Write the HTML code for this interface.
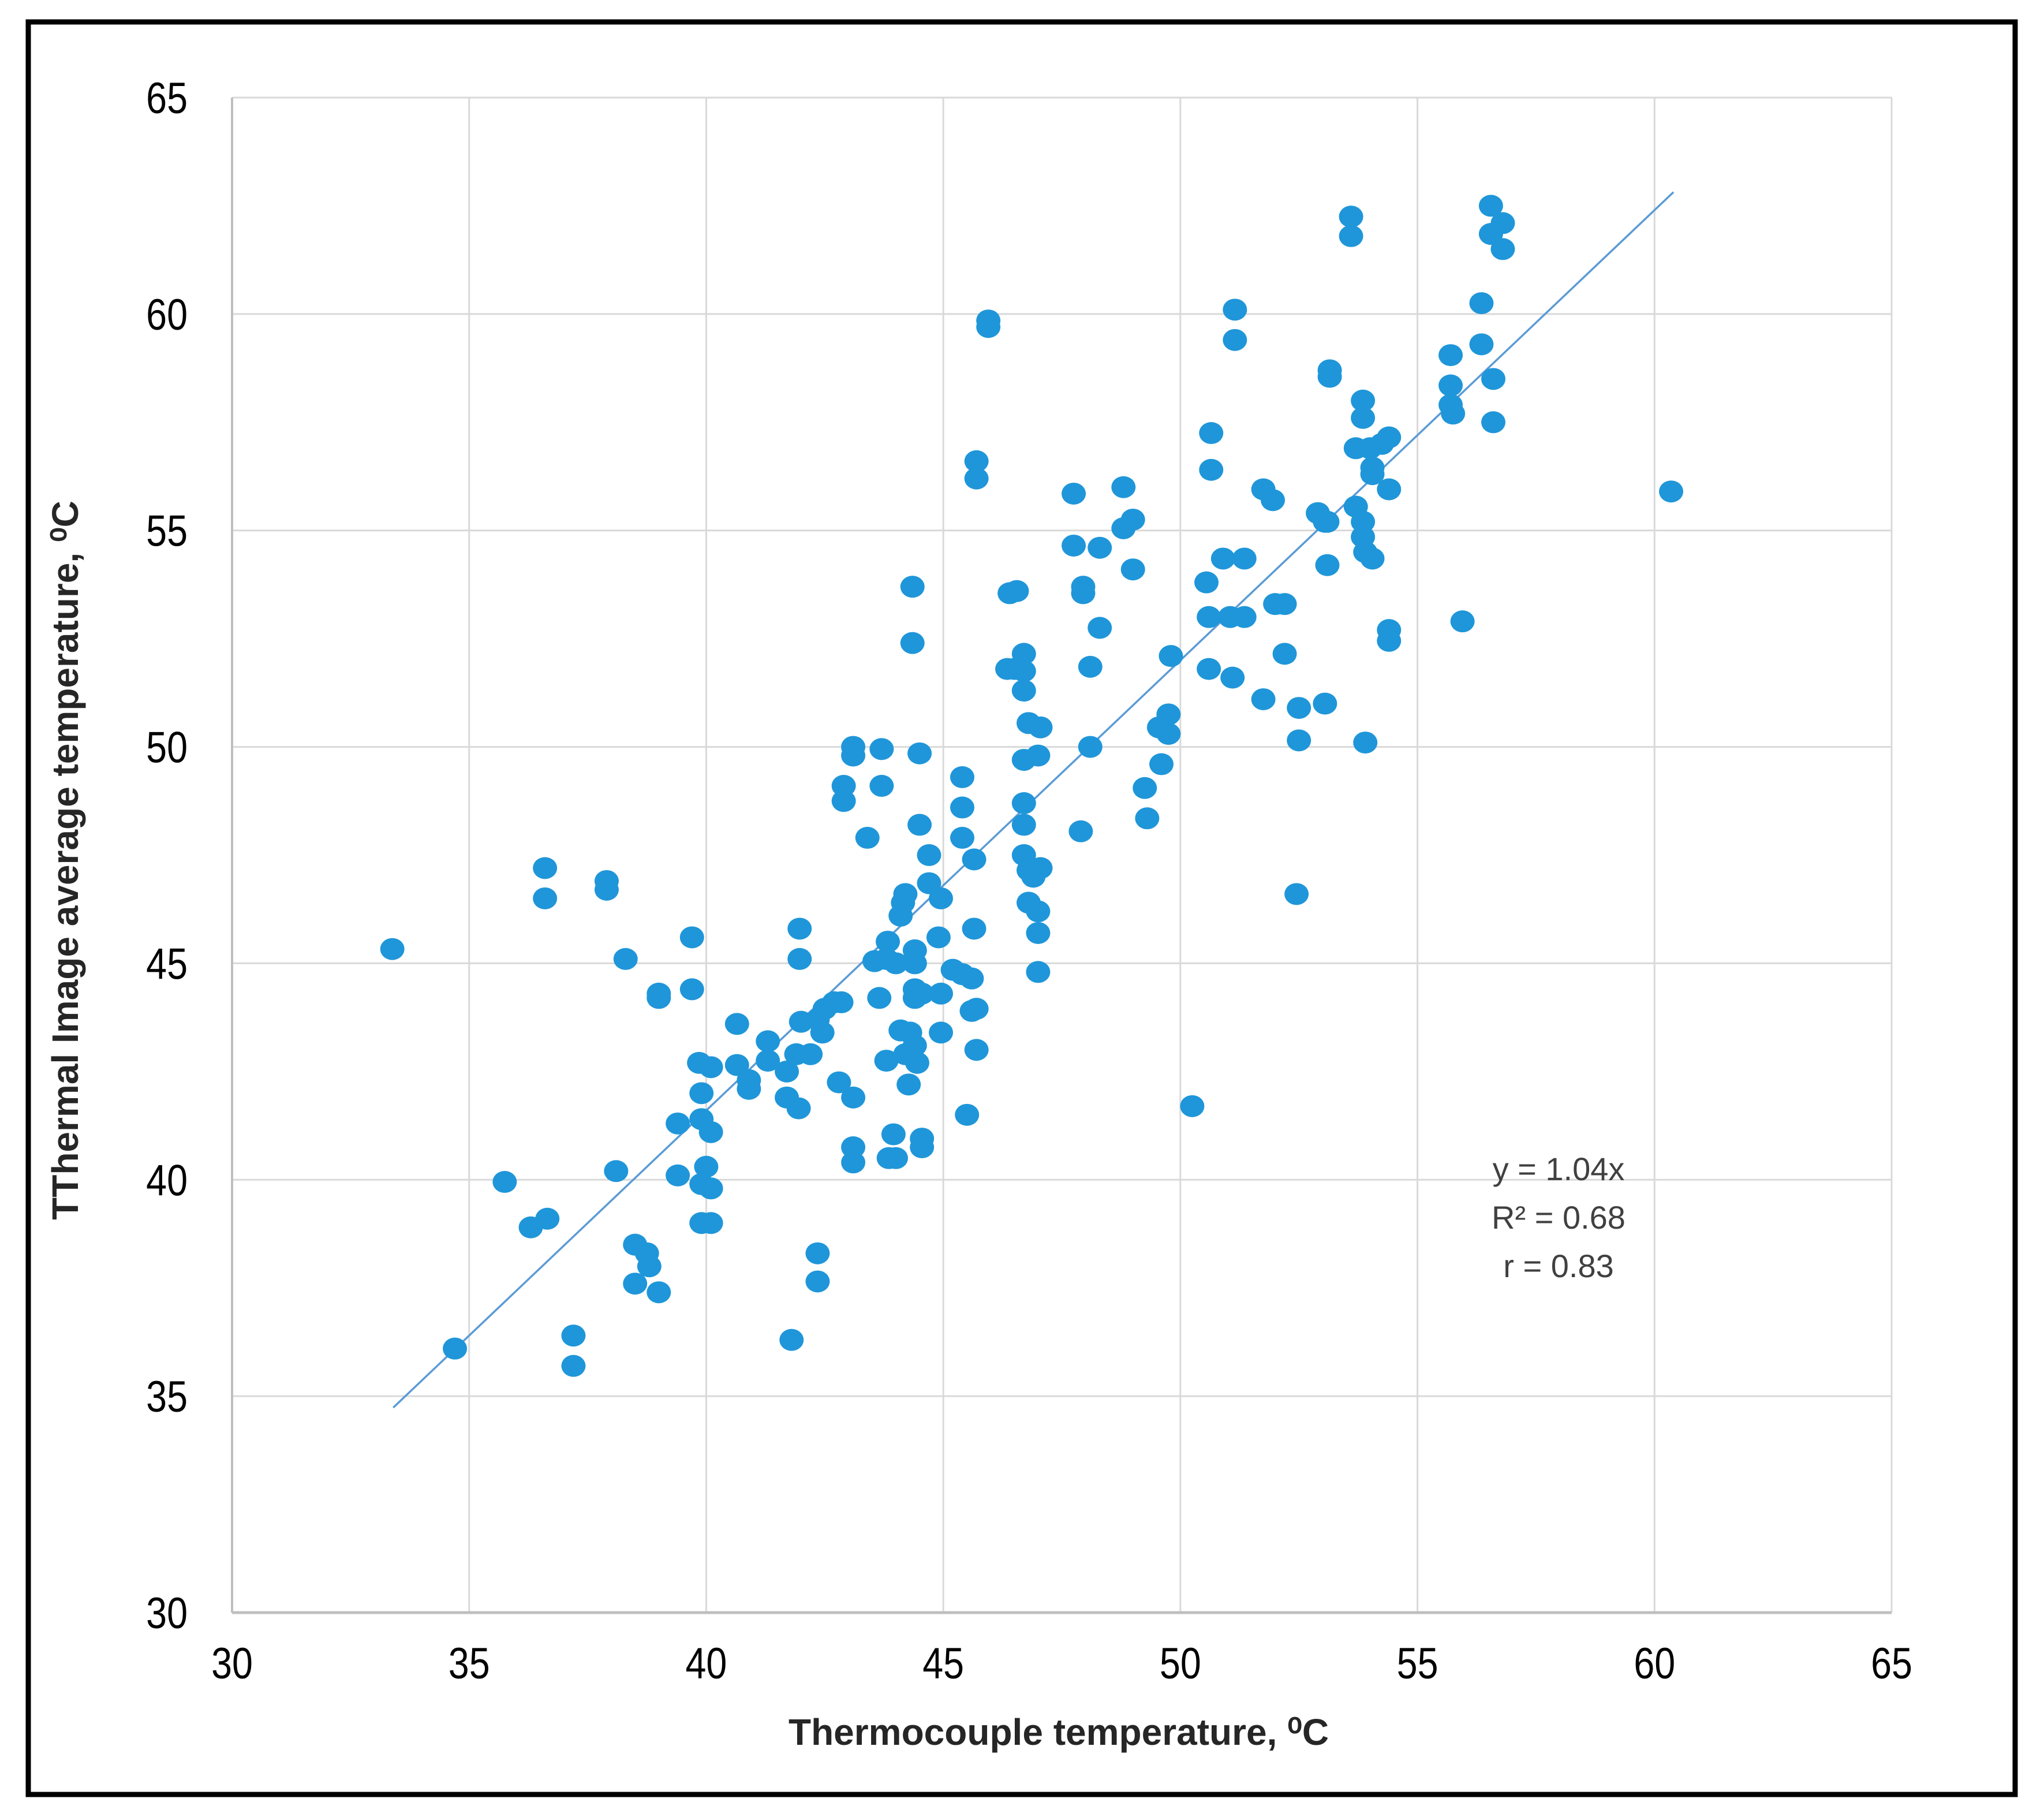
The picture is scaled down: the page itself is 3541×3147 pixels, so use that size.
<!DOCTYPE html>
<html><head><meta charset="utf-8"><style>
html,body{margin:0;padding:0;background:#fff;}
svg{display:block;}
text{font-family:"Liberation Sans",sans-serif;}
</style></head><body>
<svg id="chart" width="3541" height="3147" viewBox="0 0 3541 3147" xmlns="http://www.w3.org/2000/svg">
<rect x="49" y="38" width="3442" height="3070" fill="#fff" stroke="#000" stroke-width="9"/>
<g id="grid"></g>
<g id="axes"></g>
<g id="ticks"></g>
<line id="trend" stroke="#5b9bd5" stroke-width="3.5"/>
<g id="points"></g>
<text x="1834" y="3022" text-anchor="middle" font-size="64" font-weight="bold" fill="#262626">Thermocouple temperature, ⁰C</text>
<text transform="translate(135,1490) rotate(-90)" text-anchor="middle" font-size="64" font-weight="bold" fill="#262626">TThermal Image  average temperature, ⁰C</text>
<g font-size="56" fill="#404040" text-anchor="middle">
<text x="2700" y="2044">y = 1.04x</text>
<text x="2700" y="2128">R² = 0.68</text>
<text x="2700" y="2212">r = 0.83</text>
</g>
</svg>
<script>
const xTicks=[30,35,40,45,50,55,60,65];
const yTicks=[30,35,40,45,50,55,60,65];
const slope=1.04;
const trendRange=[33.4,60.4];
const xs=[33.38,34.7,35.75,36.3,36.65,36.6,36.6,37.2,37.2,37.9,37.9,38.1,38.3,38.5,38.5,38.75,38.8,39.0,39.0,39.0,39.4,39.4,39.7,39.7,39.85,39.9,39.9,39.9,39.9,40.0,40.1,40.1,40.1,40.1,40.65,40.65,40.9,40.9,41.3,41.3,41.7,41.7,41.8,41.95,41.97,41.97,41.9,42.0,42.2,42.35,42.35,42.35,42.45,42.5,42.7,42.8,42.85,42.9,42.9,43.1,43.1,43.1,43.1,43.1,43.4,43.55,43.65,43.7,43.7,43.8,43.8,43.83,43.85,43.95,44.0,44.0,44.1,44.15,44.2,44.1,44.2,44.27,44.3,44.4,44.35,44.35,44.4,44.4,44.4,44.4,44.45,44.5,44.5,44.55,44.55,44.55,44.7,44.7,44.9,44.95,44.95,44.95,45.2,45.4,45.4,45.4,45.4,45.5,45.6,45.6,45.65,45.65,45.7,45.7,45.7,45.7,45.95,45.95,46.4,46.55,46.35,46.5,46.7,46.7,46.7,46.7,46.7,46.7,46.7,46.8,46.8,46.8,46.9,47.0,47.0,47.0,47.0,47.05,47.05,47.75,47.75,47.9,47.95,47.95,48.1,48.1,48.3,48.3,48.8,48.8,49.0,49.0,49.25,49.3,49.55,49.6,49.75,49.75,49.8,50.25,50.55,50.6,50.6,50.65,50.65,50.9,51.05,51.1,51.15,51.15,51.35,51.35,51.75,51.75,51.95,52.0,52.2,52.2,52.45,52.5,52.5,52.9,53.05,53.05,53.1,53.15,53.15,53.1,53.6,53.6,53.7,53.7,53.85,53.85,53.85,53.85,53.9,53.9,54.05,54.0,54.05,54.05,54.25,54.4,54.4,54.4,54.4,55.7,55.7,55.7,55.75,55.95,56.35,56.35,56.55,56.55,56.6,56.6,56.8,56.8,60.35];
const ys=[45.33,36.1,39.95,38.9,39.1,47.2,46.5,36.4,35.7,46.9,46.7,40.2,45.1,38.5,37.6,38.3,38.0,37.4,44.3,44.2,41.3,40.1,44.4,45.6,42.7,42.0,41.4,39.9,39.0,40.3,42.6,41.1,39.8,39.0,43.6,42.65,42.3,42.1,43.2,42.75,42.5,41.9,36.3,41.65,45.1,45.8,42.9,43.65,42.9,43.7,38.3,37.65,43.4,43.95,44.1,42.25,44.1,49.1,48.75,41.9,50.0,49.8,40.75,40.4,47.9,45.05,44.2,49.1,49.95,42.75,45.1,45.5,40.5,41.05,40.5,45.0,46.1,46.4,46.6,43.45,42.9,42.2,43.4,43.1,53.7,52.4,45.3,45.0,44.4,44.2,42.7,48.2,49.85,40.95,40.75,44.3,46.85,47.5,45.6,46.5,43.4,44.3,44.85,44.75,48.6,47.9,49.3,41.5,44.65,43.9,45.8,47.4,43.95,43.0,56.6,56.2,59.85,59.7,53.55,53.6,51.8,51.8,52.15,51.75,51.3,49.7,48.7,48.2,47.5,50.55,47.15,46.4,47.0,45.7,44.8,46.2,49.8,50.45,47.2,55.85,54.65,48.05,53.7,53.55,51.85,50.0,54.6,52.75,56.0,55.05,55.25,54.1,49.05,48.35,50.45,49.6,50.3,50.75,52.1,41.7,53.8,53.0,51.8,57.25,56.4,54.35,53.0,51.6,60.1,59.4,54.35,53.0,55.95,51.1,55.7,53.3,53.3,52.15,46.6,50.9,50.15,55.4,55.2,51.0,54.2,58.7,58.55,55.2,62.25,61.8,56.9,55.55,55.2,58.0,57.6,54.85,54.5,50.1,54.35,56.9,56.45,56.3,57.0,57.15,55.95,52.7,52.45,59.05,58.35,57.9,57.7,52.9,60.25,59.3,62.5,61.85,58.5,57.5,62.1,61.5,55.9];

const X0=402,X1=3277,Y0=2793,Y1=169,xmin=30,xmax=65,ymin=30,ymax=65;
function sx(v){return X0+(v-xmin)/(xmax-xmin)*(X1-X0);}
function sy(v){return Y0-(v-ymin)/(ymax-ymin)*(Y0-Y1);}
const NS="http://www.w3.org/2000/svg";
function mk(tag,attrs,parent){const e=document.createElementNS(NS,tag);for(const k in attrs)e.setAttribute(k,attrs[k]);parent.appendChild(e);return e;}
const grid=document.getElementById('grid'),axes=document.getElementById('axes'),ticks=document.getElementById('ticks'),pts=document.getElementById('points');
xTicks.forEach(t=>{
  const l=mk('line',{x1:sx(t),x2:sx(t),y1:Y1,y2:Y0,stroke:'#d9d9d9','stroke-width':3},grid);
  
  
  const tx=mk('text',{transform:'translate('+sx(t)+',2907) scale(0.85,1)','text-anchor':'middle','font-size':76,fill:'#000'},ticks);
  tx.textContent=t;
  
  
});
yTicks.forEach(t=>{
  const l=mk('line',{x1:X0,x2:X1,y1:sy(t),y2:sy(t),stroke:'#d9d9d9','stroke-width':3},grid);
  
  
  const tx=mk('text',{transform:'translate(325,'+(sy(t)+27)+') scale(0.85,1)','text-anchor':'end','font-size':76,fill:'#000'},ticks);
  tx.textContent=t;
  
  
});
const ax=mk('line',{x1:X0,x2:X1,y1:Y0,y2:Y0,stroke:'#bfbfbf','stroke-width':5},axes);


const ay=mk('line',{x1:X0,x2:X0,y1:Y1,y2:Y0,stroke:'#bfbfbf','stroke-width':4},axes);


const tr=document.getElementById('trend');
tr.setAttribute('x1',sx(trendRange[0]));tr.setAttribute('y1',sy(slope*trendRange[0]));
tr.setAttribute('x2',sx(trendRange[1]));tr.setAttribute('y2',sy(slope*trendRange[1]));
xs.forEach((x,i)=>{
  const c=mk('ellipse',{cx:sx(x),cy:sy(ys[i]),rx:21,ry:19,fill:'#1f96d9'},pts);
  
  
});
</script>
</body></html>
